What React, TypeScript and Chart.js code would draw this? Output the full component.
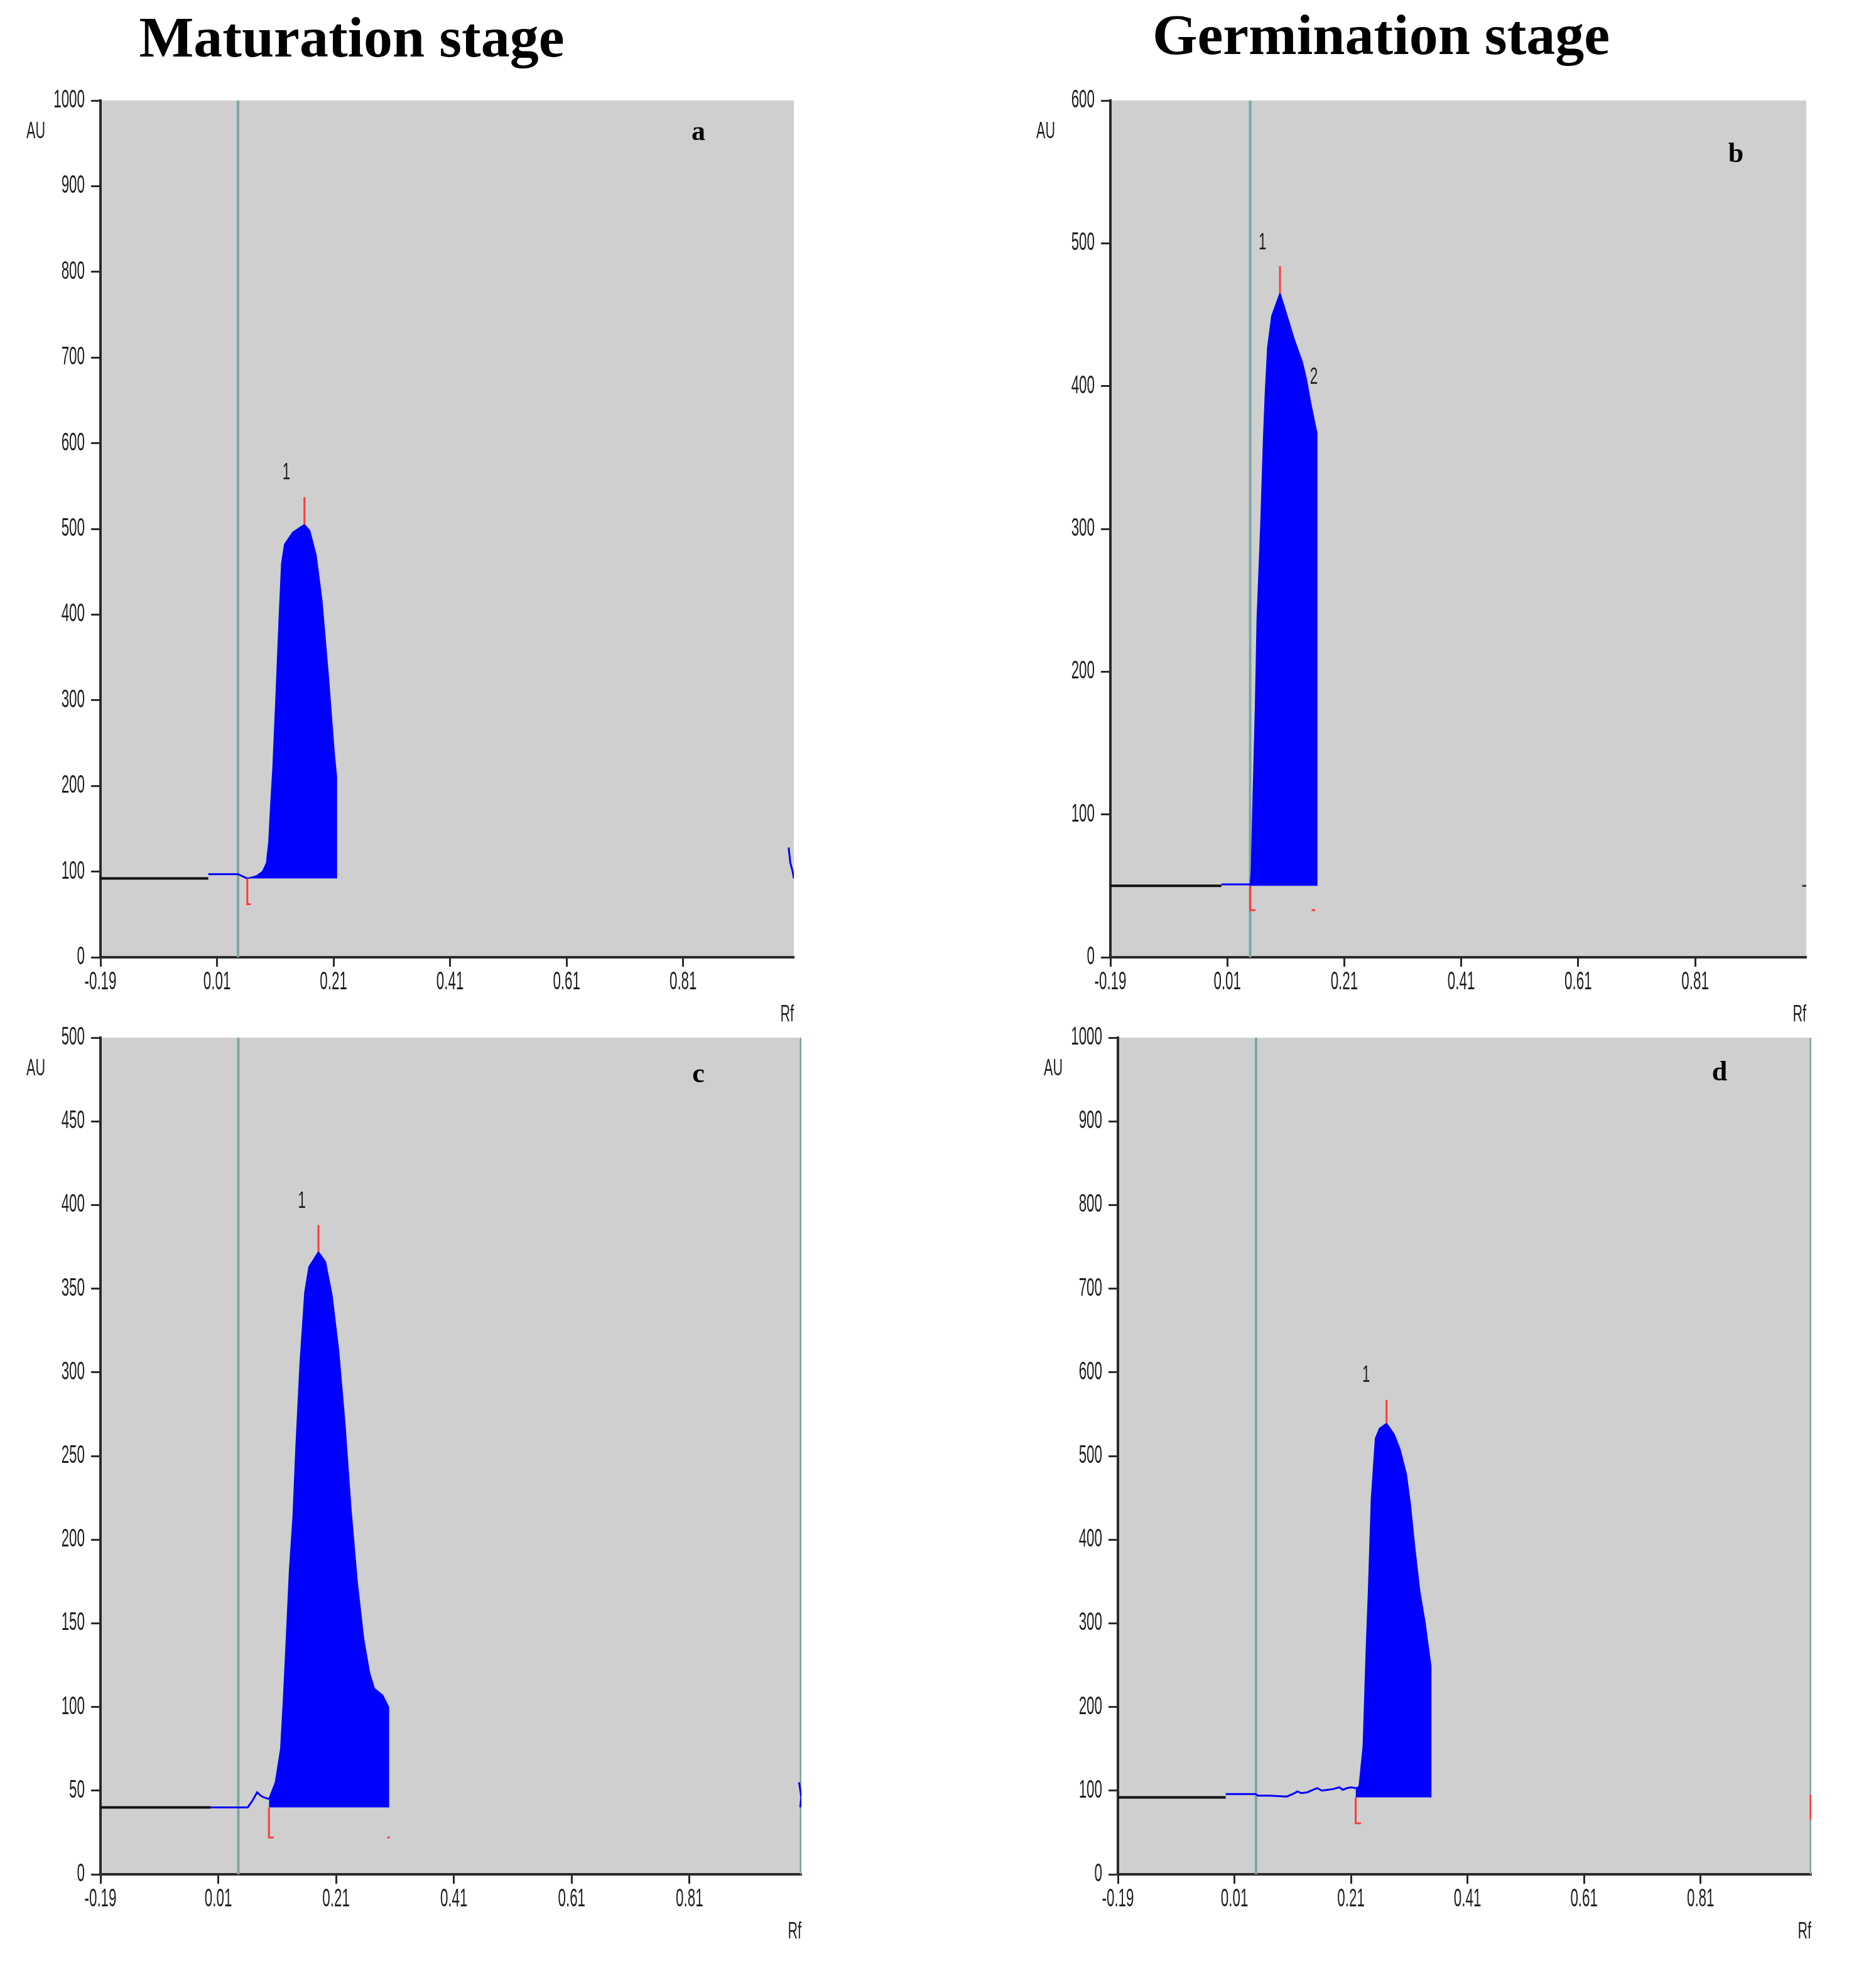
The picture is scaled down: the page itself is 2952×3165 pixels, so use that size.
import React, { useEffect, useRef } from 'react';
import { Chart, registerables } from 'chart.js';

Chart.register(...registerables);

// ---------- shared axis data ----------
const X_TICKS = [-0.19, 0.01, 0.21, 0.41, 0.61, 0.81];
const X_MIN = -0.19;
const X_MAX = 1.0;

// ---------- panel a (Maturation, top) ----------
const aYMax = 1000;
const aYStep = 100;
const aBase = 92;
const aBlackX = [-0.19, -0.005];
const aBlackY = [92, 92];
const aSignalX = [-0.005, 0.046, 0.062];
const aSignalY = [97, 97, 92];
const aPeakX = [0.062, 0.078, 0.088, 0.095, 0.099, 0.102, 0.106, 0.111, 0.114, 0.117, 0.121, 0.126, 0.14, 0.16, 0.169, 0.18, 0.19, 0.201, 0.211, 0.215, 0.215];
const aPeakY = [92, 95, 100, 110, 135, 175, 221, 300, 350, 400, 460, 482, 496, 505, 498, 469, 416, 328, 239, 211, 92];
const aTopMarkX = [0.16, 0.16];
const aTopMarkY = [505, 537];
const aStartMarkX = [0.062, 0.062, 0.068];
const aStartMarkY = [92, 62, 62];
const aTailX = [0.991, 0.994, 0.998, 1.0];
const aTailY = [128, 110, 100, 92];
const aFrontX = 0.046;
const aLabels = [{ text: '1', x: 0.129, y: 565 }];

// ---------- panel b (Germination, top) ----------
const bYMax = 600;
const bYStep = 100;
const bBase = 50;
const bBlackX = [-0.19, 0.0];
const bBlackY = [50, 50];
const bSignalX = [0.0, 0.049];
const bSignalY = [51, 51];
const bPeakX = [0.049, 0.051, 0.054, 0.058, 0.061, 0.067, 0.072, 0.075, 0.079, 0.086, 0.1, 0.11, 0.124, 0.138, 0.145, 0.152, 0.163, 0.163];
const bPeakY = [50, 60, 110, 174, 237, 300, 364, 395, 427, 449, 465, 452, 433, 417, 405, 389, 367, 50];
const bTopMarkX = [0.1, 0.1];
const bTopMarkY = [465, 484];
const bStartMarkX = [0.049, 0.049, 0.058];
const bStartMarkY = [50, 33, 33];
const bEndMarkX = [0.154, 0.16];
const bEndMarkY = [33, 33];
const bTailX = [0.993, 1.0];
const bTailY = [50, 50];
const bFrontX = 0.049;
const bLabels = [
  { text: '1', x: 0.07, y: 500 },
  { text: '2', x: 0.158, y: 406 },
];

// ---------- panel c (Maturation, bottom) ----------
const cYMax = 500;
const cYStep = 50;
const cBase = 40;
const cBlackX = [-0.19, -0.003];
const cBlackY = [40, 40];
const cSignalX = [-0.003, 0.06, 0.068, 0.076, 0.082, 0.087, 0.096];
const cSignalY = [40, 40, 44, 49, 47, 46, 45];
const cPeakX = [0.096, 0.107, 0.116, 0.121, 0.126, 0.131, 0.137, 0.142, 0.149, 0.157, 0.164, 0.18, 0.192, 0.203, 0.214, 0.225, 0.235, 0.246, 0.257, 0.267, 0.275, 0.289, 0.299, 0.299];
const cPeakY = [45, 55, 75, 107, 144, 182, 214, 256, 306, 348, 363, 372, 366, 346, 314, 269, 219, 174, 140, 120, 111, 107, 100, 40];
const cTopMarkX = [0.18, 0.18];
const cTopMarkY = [372, 388];
const cStartMarkX = [0.096, 0.096, 0.104];
const cStartMarkY = [40, 22, 22];
const cEndMarkX = [0.297, 0.301];
const cEndMarkY = [22, 22];
const cTailX = [0.996, 1.0, 0.998];
const cTailY = [55, 46, 40];
const cFrontX = 0.044;
const cLabels = [{ text: '1', x: 0.152, y: 402 }];

// ---------- panel d (Germination, bottom) ----------
const dYMax = 1000;
const dYStep = 100;
const dBase = 92;
const dBlackX = [-0.19, -0.005];
const dBlackY = [92, 92];
const dSignalX = [-0.005, 0.046, 0.05, 0.07, 0.1, 0.113, 0.118, 0.125, 0.135, 0.145, 0.152, 0.16, 0.17, 0.18, 0.19, 0.196, 0.203, 0.21, 0.218];
const dSignalY = [96, 96, 94, 94, 93, 97, 99, 97, 98, 101, 103, 100, 101, 102, 104, 101, 103, 104, 103];
const dPeakX = [0.218, 0.224, 0.231, 0.236, 0.24, 0.245, 0.252, 0.259, 0.271, 0.284, 0.294, 0.305, 0.312, 0.319, 0.328, 0.337, 0.344, 0.347, 0.347];
const dPeakY = [103, 105, 153, 264, 338, 448, 521, 533, 539, 526, 508, 478, 441, 393, 338, 301, 264, 249, 92];
const dTopMarkX = [0.271, 0.271];
const dTopMarkY = [539, 567];
const dStartMarkX = [0.218, 0.218, 0.227];
const dStartMarkY = [92, 61, 61];
const dTailX = [0.999, 0.999];
const dTailY = [65, 95];
const dFrontX = 0.047;
const dLabels = [{ text: '1', x: 0.236, y: 596 }];

// ---------- styles ----------
const SANS = "'Liberation Sans', Arial, sans-serif";
const SERIF = "'Liberation Serif', 'DejaVu Serif', serif";
const BLUE = '#0000ff';
const RED = '#ff3b3b';
const TEAL = '#7aa6a6';
const AXIS = '#2a2a2a';
const TEXT = '#1e1e1e';
const PLOT_BG = '#cfcfcf';

const pts = (xs: number[], ys: number[]) => xs.map((x, i) => ({ x, y: ys[i] }));

type PanelSpec = {
  key: string;
  box: { L: number; R: number; T: number; B: number };
  yMax: number;
  yStep: number;
  base: number;
  blackX: number[]; blackY: number[];
  signalX: number[]; signalY: number[];
  peakX: number[]; peakY: number[];
  topMarkX: number[]; topMarkY: number[];
  startMarkX: number[]; startMarkY: number[];
  endMarkX?: number[]; endMarkY?: number[];
  tailX: number[]; tailY: number[]; tailColor: string;
  frontX: number;
  rightBorder: boolean;
  labels: { text: string; x: number; y: number }[];
};

const PANELS: PanelSpec[] = [
  {
    key: 'a', box: { L: 160, R: 1264, T: 160, B: 1524 }, yMax: aYMax, yStep: aYStep, base: aBase,
    blackX: aBlackX, blackY: aBlackY, signalX: aSignalX, signalY: aSignalY, peakX: aPeakX, peakY: aPeakY,
    topMarkX: aTopMarkX, topMarkY: aTopMarkY, startMarkX: aStartMarkX, startMarkY: aStartMarkY,
    tailX: aTailX, tailY: aTailY, tailColor: BLUE, frontX: aFrontX, rightBorder: false, labels: aLabels,
  },
  {
    key: 'b', box: { L: 1768, R: 2876, T: 160, B: 1524 }, yMax: bYMax, yStep: bYStep, base: bBase,
    blackX: bBlackX, blackY: bBlackY, signalX: bSignalX, signalY: bSignalY, peakX: bPeakX, peakY: bPeakY,
    topMarkX: bTopMarkX, topMarkY: bTopMarkY, startMarkX: bStartMarkX, startMarkY: bStartMarkY,
    endMarkX: bEndMarkX, endMarkY: bEndMarkY,
    tailX: bTailX, tailY: bTailY, tailColor: '#333333', frontX: bFrontX, rightBorder: false, labels: bLabels,
  },
  {
    key: 'c', box: { L: 160, R: 1276, T: 1652, B: 2984 }, yMax: cYMax, yStep: cYStep, base: cBase,
    blackX: cBlackX, blackY: cBlackY, signalX: cSignalX, signalY: cSignalY, peakX: cPeakX, peakY: cPeakY,
    topMarkX: cTopMarkX, topMarkY: cTopMarkY, startMarkX: cStartMarkX, startMarkY: cStartMarkY,
    endMarkX: cEndMarkX, endMarkY: cEndMarkY,
    tailX: cTailX, tailY: cTailY, tailColor: BLUE, frontX: cFrontX, rightBorder: true, labels: cLabels,
  },
  {
    key: 'd', box: { L: 1780, R: 2884, T: 1652, B: 2984 }, yMax: dYMax, yStep: dYStep, base: dBase,
    blackX: dBlackX, blackY: dBlackY, signalX: dSignalX, signalY: dSignalY, peakX: dPeakX, peakY: dPeakY,
    topMarkX: dTopMarkX, topMarkY: dTopMarkY, startMarkX: dStartMarkX, startMarkY: dStartMarkY,
    tailX: dTailX, tailY: dTailY, tailColor: RED, frontX: dFrontX, rightBorder: true, labels: dLabels,
  },
];

const PAD_TOP = 30;
const PAD_RIGHT = 30;
const Y_AXIS_W = 160;
const X_AXIS_H = 130;

function line(data: { x: number; y: number }[], color: string, width: number, order: number, extra: any = {}) {
  return {
    data,
    borderColor: color,
    backgroundColor: color,
    borderWidth: width,
    pointRadius: 0,
    pointHoverRadius: 0,
    tension: 0,
    fill: false,
    order,
    ...extra,
  };
}

// condensed text: regular sans squeezed horizontally
function narrowText(ctx: any, text: string, x: number, y: number, align: string, size: number, sx: number) {
  ctx.save();
  ctx.translate(x, y);
  ctx.scale(sx, 1);
  ctx.font = `${size}px ${SANS}`;
  ctx.fillStyle = TEXT;
  ctx.textAlign = align;
  ctx.textBaseline = 'middle';
  ctx.fillText(text, 0, 0);
  ctx.restore();
}

function Panel({ spec }: { spec: PanelSpec }) {
  const ref = useRef<HTMLCanvasElement | null>(null);
  const { L, R, T, B } = spec.box;
  const width = R - L + Y_AXIS_W + PAD_RIGHT;
  const height = B - T + PAD_TOP + X_AXIS_H;

  useEffect(() => {
    if (!ref.current) return;
    const datasets: any[] = [];
    datasets.push(line(pts([spec.frontX, spec.frontX], [0, spec.yMax]), TEAL, 4, 9));
    if (spec.rightBorder) datasets.push(line(pts([X_MAX, X_MAX], [0, spec.yMax]), TEAL, 5, 9));
    datasets.push(line(pts(spec.blackX, spec.blackY), '#111111', 4, 5));
    datasets.push(line(pts(spec.signalX, spec.signalY), BLUE, 3, 4));
    datasets.push(line(pts(spec.peakX, spec.peakY), BLUE, 2, 3, { fill: { value: spec.base }, backgroundColor: BLUE }));
    datasets.push(line(pts(spec.tailX, spec.tailY), spec.tailColor, 3, 2));
    datasets.push(line(pts(spec.topMarkX, spec.topMarkY), RED, 3, 1));
    datasets.push(line(pts(spec.startMarkX, spec.startMarkY), RED, 3, 1));
    if (spec.endMarkX && spec.endMarkY) datasets.push(line(pts(spec.endMarkX, spec.endMarkY), RED, 3, 1));

    const bgPlugin = {
      id: 'plotBg',
      beforeDraw(chart: any) {
        const { ctx, chartArea } = chart;
        ctx.save();
        ctx.fillStyle = PLOT_BG;
        ctx.fillRect(chartArea.left, chartArea.top, chartArea.right - chartArea.left, chartArea.bottom - chartArea.top);
        ctx.restore();
      },
    };
    const textPlugin = {
      id: 'narrowText',
      afterDraw(chart: any) {
        const { ctx, chartArea, scales } = chart;
        const xs = scales.x;
        const ys = scales.y;
        ys.ticks.forEach((t: any) => {
          narrowText(ctx, String(t.value), chartArea.left - 25, ys.getPixelForValue(t.value), 'right', 40, 0.56);
        });
        xs.ticks.forEach((t: any) => {
          narrowText(ctx, Number(t.value).toFixed(2), xs.getPixelForValue(t.value), chartArea.bottom + 40, 'center', 40, 0.56);
        });
        spec.labels.forEach((l) => {
          narrowText(ctx, l.text, xs.getPixelForValue(l.x), ys.getPixelForValue(l.y), 'center', 36, 0.62);
        });
        narrowText(ctx, 'AU', chartArea.left - 103, chartArea.top + 50, 'center', 36, 0.6);
        narrowText(ctx, 'Rf', chartArea.right, chartArea.bottom + 92, 'right', 36, 0.6);
      },
    };

    const chart = new Chart(ref.current, {
      type: 'line',
      data: { datasets },
      options: {
        animation: false,
        responsive: false,
        devicePixelRatio: 1,
        events: [],
        layout: { padding: { top: PAD_TOP, right: PAD_RIGHT, left: 0, bottom: 0 } },
        plugins: { legend: { display: false }, tooltip: { enabled: false }, title: { display: false } },
        scales: {
          x: {
            type: 'linear',
            min: X_MIN,
            max: X_MAX,
            afterBuildTicks: (scale: any) => {
              scale.ticks = X_TICKS.map((v) => ({ value: v }));
            },
            afterFit: (scale: any) => {
              scale.height = X_AXIS_H;
            },
            ticks: { display: false, autoSkip: false, maxRotation: 0, minRotation: 0 },
            grid: { drawOnChartArea: false, drawTicks: true, tickLength: 15, tickWidth: 3, tickColor: AXIS, color: AXIS },
            border: { display: true, color: AXIS, width: 4 },
          },
          y: {
            type: 'linear',
            min: 0,
            max: spec.yMax,
            afterFit: (scale: any) => {
              scale.width = Y_AXIS_W;
            },
            ticks: { display: false, stepSize: spec.yStep, autoSkip: false },
            grid: { drawOnChartArea: false, drawTicks: true, tickLength: 15, tickWidth: 3, tickColor: AXIS, color: AXIS },
            border: { display: true, color: AXIS, width: 4 },
          },
        },
      } as any,
      plugins: [bgPlugin, textPlugin],
    });
    return () => chart.destroy();
  }, []);

  return (
    <canvas
      ref={ref}
      width={width}
      height={height}
      style={{ position: 'absolute', left: L - Y_AXIS_W, top: T - PAD_TOP, width, height }}
    />
  );
}

const TITLES = [
  { text: 'Maturation stage', cx: 560, top: 13 },
  { text: 'Germination stage', cx: 2199, top: 9 },
];
const LETTERS = [
  { text: 'a', cx: 1112, top: 187 },
  { text: 'b', cx: 2764, top: 222 },
  { text: 'c', cx: 1112, top: 1687 },
  { text: 'd', cx: 2738, top: 1684 },
];

export default function App() {
  return (
    <div style={{ position: 'absolute', left: 0, top: 0, width: 2952, height: 3165, background: '#ffffff', overflow: 'hidden' }}>
      {TITLES.map((t) => (
        <div
          key={t.text}
          style={{
            position: 'absolute', left: t.cx - 600, width: 1200, top: t.top, textAlign: 'center',
            fontFamily: SERIF, fontWeight: 'bold', fontSize: 92, lineHeight: '92px', color: '#000',
          }}
        >
          {t.text}
        </div>
      ))}
      {PANELS.map((p) => (
        <Panel key={p.key} spec={p} />
      ))}
      {LETTERS.map((l) => (
        <div
          key={l.text}
          style={{
            position: 'absolute', left: l.cx - 50, width: 100, top: l.top, textAlign: 'center',
            fontFamily: SERIF, fontWeight: 'bold', fontSize: 44, lineHeight: '44px', color: '#000',
          }}
        >
          {l.text}
        </div>
      ))}
    </div>
  );
}
